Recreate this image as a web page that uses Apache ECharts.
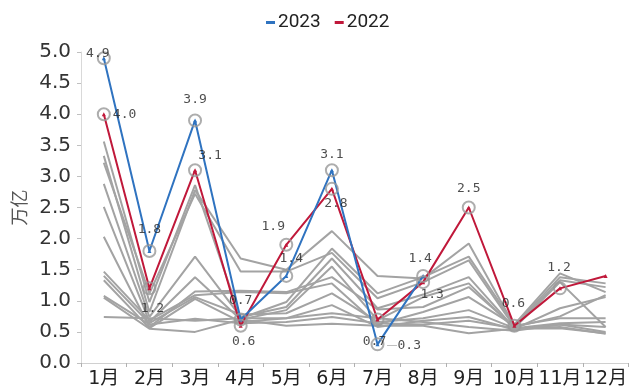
<!DOCTYPE html>
<html>
<head>
<meta charset="utf-8">
<script src="https://cdn.jsdelivr.net/npm/echarts@6/dist/echarts.min.js"></script>
<style>
  html, body { margin: 0; padding: 0; background: #fff; }
  #chart { width: 630px; height: 389px; }
</style>
</head>
<body>
<div id="chart"></div>
<script>
// Months on the category axis
const months = ['1月', '2月', '3月', '4月', '5月', '6月', '7月', '8月', '9月', '10月', '11月', '12月'];

// Highlighted years (万亿)
const y2023 = [4.9, 1.8, 3.9, 0.7, 1.4, 3.1, 0.3, 1.4];
const y2022 = [4.0, 1.2, 3.1, 0.6, 1.9, 2.8, 0.7, 1.3, 2.5, 0.6, 1.2, 1.4];

// Earlier years, drawn in grey
const y2010 = [3.56, 0.98, 2.86, 0.72, 0.98, 1.84, 1.12, 1.38, 1.71, 0.62, 1.44, 1.14];
const y2011 = [3.33, 0.82, 2.78, 1.68, 1.50, 2.12, 1.40, 1.36, 1.92, 0.60, 1.38, 1.28];
const y2012 = [3.22, 1.12, 2.72, 1.47, 1.47, 1.77, 1.04, 1.30, 1.65, 0.58, 1.33, 1.22];
const y2013 = [2.88, 0.74, 1.71, 0.74, 0.90, 1.68, 0.88, 1.10, 1.38, 0.56, 1.30, 0.58];
const y2014 = [2.51, 0.66, 1.38, 0.70, 0.85, 1.55, 0.69, 1.06, 1.28, 0.55, 0.88, 1.06];
const y2015 = [2.03, 0.58, 1.15, 1.16, 1.14, 1.38, 0.86, 0.90, 1.22, 0.58, 0.75, 1.09];
const y2016 = [1.47, 0.69, 1.09, 1.14, 1.12, 1.28, 0.62, 0.82, 1.06, 0.60, 0.72, 0.72];
const y2017 = [1.40, 0.64, 1.06, 0.78, 0.80, 1.12, 0.66, 0.72, 0.85, 0.56, 0.64, 0.66];
const y2018 = [1.33, 0.56, 1.03, 0.66, 0.72, 0.93, 0.58, 0.68, 0.74, 0.54, 0.62, 0.50];
const y2019 = [1.08, 0.62, 0.71, 0.64, 0.66, 0.74, 0.64, 0.62, 0.68, 0.56, 0.58, 0.47];
const y2020 = [1.05, 0.55, 0.50, 0.70, 0.60, 0.63, 0.60, 0.60, 0.48, 0.55, 0.56, 0.48];
const y2021 = [0.74, 0.72, 0.68, 0.72, 0.72, 0.80, 0.72, 0.66, 0.58, 0.52, 0.62, 0.58];

const greyYears = [
  ['2010', y2010], ['2011', y2011], ['2012', y2012], ['2013', y2013],
  ['2014', y2014], ['2015', y2015], ['2016', y2016], ['2017', y2017],
  ['2018', y2018], ['2019', y2019], ['2020', y2020], ['2021', y2021]
];

// Value-label placement for the ringed points: [position, dx, dy, leader line]
const place2023 = [
  ['inside', -6, -5], ['top', 0, -3], ['top', 0, -2], ['top', 0, 0],
  ['top', 5, 1], ['top', 0, 3], ['right', -3, 1, true], ['top', -3, 1]
];
const place2022 = [
  ['right', -3, 0], ['bottom', 3, 2], ['top', 15, 4], ['bottom', 3, -3],
  ['top', -13, 0], ['bottom', 4, -4], ['bottom', -3, 4], ['bottom', 9, -6],
  ['top', 0, 0], ['top', -1, -4], ['top', -1, -2]
];

const BLUE = '#2f73c0';
const RED = '#c0183a';
const GREY = '#a3a3a3';
const RING = '#999999';

const labelFont = {
  fontFamily: 'DejaVu Sans Mono',
  fontSize: 13,
  color: '#222'
};

function ringData(values, placement) {
  return placement.map((p, i) => {
    const leader = !!p[3];
    const text = values[i].toFixed(1);
    return {
      value: values[i],
      label: Object.assign({
        show: true,
        position: p[0],
        offset: [p[1], p[2]],
        formatter: leader ? '{l|—}{v|' + text + '}' : text,
        rich: leader ? {
          l: { color: '#999', fontSize: 11, fontFamily: 'DejaVu Sans' },
          v: Object.assign({}, labelFont)
        } : undefined
      }, labelFont)
    };
  });
}

const series = [];
greyYears.forEach(([name, vals]) => {
  series.push({
    name: name,
    type: 'line',
    data: vals,
    symbol: 'none',
    lineStyle: { color: GREY, width: 2 },
    z: 1,
    silent: true
  });
});
series.push({
  name: '2022',
  type: 'line',
  data: y2022,
  symbol: 'triangle',
  symbolSize: 4,
  itemStyle: { color: RED },
  lineStyle: { color: RED, width: 2 },
  z: 3
});
series.push({
  name: '2023',
  type: 'line',
  data: y2023,
  symbol: 'triangle',
  symbolSize: 4,
  itemStyle: { color: BLUE },
  lineStyle: { color: BLUE, width: 2 },
  z: 4
});
series.push({
  name: 'ring2022',
  type: 'scatter',
  data: ringData(y2022, place2022),
  symbol: 'circle',
  symbolSize: 12,
  itemStyle: { color: 'rgba(0,0,0,0)', borderColor: RING, borderWidth: 2 },
  z: 5
});
series.push({
  name: 'ring2023',
  type: 'scatter',
  data: ringData(y2023, place2023),
  symbol: 'circle',
  symbolSize: 12,
  itemStyle: { color: 'rgba(0,0,0,0)', borderColor: RING, borderWidth: 2 },
  z: 5
});

const chart = echarts.init(document.getElementById('chart'));
chart.setOption({
  animation: false,
  backgroundColor: '#fff',
  legend: {
    data: [
      { name: '2023', itemStyle: { color: BLUE } },
      { name: '2022', itemStyle: { color: RED } }
    ],
    top: 8,
    left: 261,
    icon: 'rect',
    itemWidth: 9,
    itemHeight: 3,
    itemGap: 14,
    textStyle: { fontFamily: 'Roboto', fontSize: 19, color: '#222', padding: [0, 0, 0, -2] }
  },
  grid: { left: 81, right: -3, top: 52, bottom: 26, containLabel: false },
  xAxis: {
    type: 'category',
    data: months,
    boundaryGap: true,
    axisLine: { lineStyle: { color: '#d0d0d0', width: 1 } },
    axisTick: { show: true, inside: false, length: 4, lineStyle: { color: '#b0b0b0' } },
    axisLabel: {
      fontFamily: 'DejaVu Sans, Noto Sans CJK SC',
      fontSize: 19,
      color: '#222',
      margin: 7,
      interval: 0
    }
  },
  yAxis: {
    type: 'value',
    min: 0,
    max: 5,
    interval: 0.5,
    name: '万亿',
    nameLocation: 'middle',
    nameGap: 51,
    nameRotate: 90,
    nameTextStyle: { fontFamily: 'Noto Sans CJK SC', fontSize: 18, color: '#555' },
    axisLine: { show: true, lineStyle: { color: '#d9d9d9', width: 1 } },
    axisTick: { show: true, length: 4, lineStyle: { color: '#c0c0c0' } },
    splitLine: { show: false },
    axisLabel: {
      fontFamily: 'DejaVu Sans',
      fontSize: 20,
      color: '#333',
      margin: 10,
      formatter: v => v.toFixed(1)
    }
  },
  series: series
});
</script>
</body>
</html>
